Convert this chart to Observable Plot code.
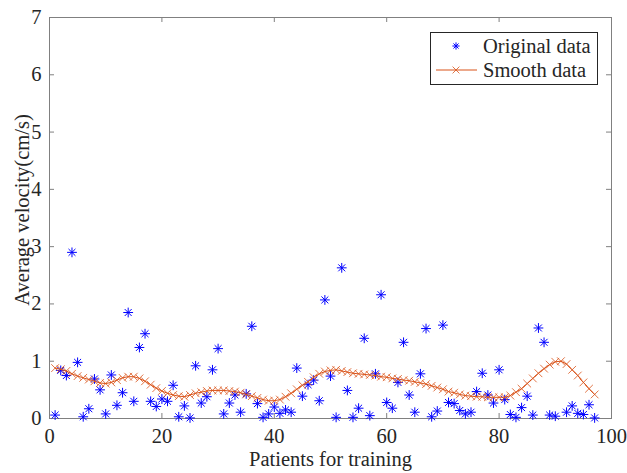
<!DOCTYPE html>
<html>
<head>
<meta charset="utf-8">
<script src="https://cdn.jsdelivr.net/npm/d3@7"></script>
<script src="https://cdn.jsdelivr.net/npm/@observablehq/plot@0.6"></script>
<style>
  html, body { margin: 0; padding: 0; background: #fff; }
  #wrap { position: relative; width: 627px; height: 473px; }
  #legend { position: absolute; left: 0; top: 0; }
</style>
</head>
<body>
<div id="wrap"></div>
<script>
// ---- data ----
const origIndex = [1,2,3,4,5,6,7,8,9,10,11,12,13,14,15,16,17,18,19,20,
  21,22,23,24,25,26,27,28,29,30,31,32,33,34,35,36,37,38,39,40,
  41,42,43,44,45,46,47,48,49,50,51,52,53,54,55,56,57,58,59,60,
  61,62,63,64,65,66,67,68,69,70,71,72,73,74,75,76,77,78,79,80,
  81,82,83,84,85,86,87,88,89,90,92,93,94,95,96,97];
const origValues = [0.06,0.84,0.75,2.90,0.98,0.03,0.17,0.69,0.50,0.08,
  0.76,0.23,0.45,1.85,0.30,1.24,1.48,0.30,0.21,0.34,
  0.30,0.58,0.03,0.22,0.01,0.92,0.27,0.38,0.85,1.22,
  0.08,0.27,0.41,0.11,0.43,1.61,0.26,0.02,0.08,0.20,
  0.09,0.15,0.11,0.88,0.39,0.59,0.67,0.31,2.07,0.74,
  0.02,2.63,0.49,0.02,0.18,1.40,0.05,0.78,2.16,0.28,
  0.18,0.63,1.33,0.41,0.11,0.78,1.57,0.03,0.13,1.63,
  0.28,0.26,0.14,0.08,0.11,0.47,0.79,0.41,0.27,0.85,
  0.33,0.07,0.02,0.19,0.39,0.06,1.58,1.33,0.06,0.04,
  0.11,0.22,0.09,0.07,0.24,0.01];

const smoothIndex = d3.range(1, 98);
const smoothValues = [0.88,0.86,0.83,0.78,0.74,0.71,0.68,0.65,0.62,0.61,
  0.63,0.67,0.71,0.73,0.73,0.70,0.65,0.59,0.53,0.48,
  0.44,0.41,0.39,0.38,0.41,0.44,0.46,0.48,0.49,0.49,
  0.49,0.48,0.47,0.45,0.42,0.39,0.36,0.33,0.31,0.31,
  0.33,0.38,0.44,0.51,0.58,0.64,0.72,0.78,0.82,0.84,
  0.85,0.83,0.81,0.79,0.78,0.77,0.76,0.75,0.73,0.72,
  0.70,0.69,0.67,0.66,0.64,0.62,0.60,0.57,0.54,0.51,
  0.47,0.45,0.42,0.40,0.39,0.38,0.38,0.37,0.37,0.37,
  0.37,0.40,0.46,0.52,0.61,0.70,0.79,0.87,0.94,0.99,
  1.00,0.95,0.85,0.75,0.63,0.52,0.42];

const xTicks = [0, 20, 40, 60, 80, 100];
const yTicks = [0, 1, 2, 3, 4, 5, 6, 7];
const xLabel = "Patients for training";
const yLabel = "Average velocity(cm/s)";
const seriesNames = ["Original data", "Smooth data"];

const orig = origIndex.map((x, i) => ({x, y: origValues[i]}));
const smooth = smoothIndex.map((x, i) => ({x, y: smoothValues[i]}));

// ---- styles ----
const BLUE = "#0000ff";
const ORANGE = "#D95319";
const AXIS = "#808080";
const TEXT = "#262626";
const FONT = "'Liberation Serif', 'Times New Roman', serif";
const FS = 20.5;

const W = 627, H = 473;
const mL = 49, mR = 16, mT = 17, mB = 55;
const innerW = W - mL - mR, innerH = H - mT - mB;
const TICK = 5;

// MATLAB-style '*' marker: 8 spokes
const starSymbol = {
  draw(context, size) {
    const r = Math.sqrt(size / Math.PI);
    const d = r * Math.SQRT1_2;
    context.moveTo(-r, 0); context.lineTo(r, 0);
    context.moveTo(0, -r); context.lineTo(0, r);
    context.moveTo(-d, -d); context.lineTo(d, d);
    context.moveTo(-d, d); context.lineTo(d, -d);
  }
};

const chart = Plot.plot({
  width: W, height: H,
  marginLeft: mL, marginRight: mR, marginTop: mT, marginBottom: mB,
  style: {fontFamily: FONT, fontSize: FS + "px", color: TEXT, background: "#fff"},
  x: {domain: [0, 100], ticks: xTicks},
  y: {domain: [0, 7], ticks: yTicks},
  marks: [
    // tick labels
    Plot.axisX(xTicks, {tickSize: 0, tickPadding: 10, label: null, tickFormat: d3.format("d"), fontSize: FS, fill: TEXT}),
    Plot.axisY(yTicks, {tickSize: 0, tickPadding: 8, label: null, tickFormat: d3.format("d"), fontSize: FS, fill: TEXT}),
    // inward ticks (bottom, top, left, right)
    Plot.tickX(xTicks, {x: d => d, stroke: AXIS, insetTop: innerH - TICK}),
    Plot.tickX(xTicks, {x: d => d, stroke: AXIS, insetBottom: innerH - TICK}),
    Plot.tickY(yTicks, {y: d => d, stroke: AXIS, insetRight: innerW - TICK}),
    Plot.tickY(yTicks, {y: d => d, stroke: AXIS, insetLeft: innerW - TICK}),
    Plot.frame({stroke: AXIS, strokeWidth: 1}),
    // data
    Plot.dot(orig, {x: "x", y: "y", symbol: starSymbol, r: 4.9, stroke: BLUE, strokeWidth: 1, fill: "none"}),
    Plot.line(smooth, {x: "x", y: "y", stroke: ORANGE, strokeWidth: 1}),
    Plot.dot(smooth, {x: "x", y: "y", symbol: "times", r: 3.6, stroke: ORANGE, strokeWidth: 0.8}),
    // axis titles
    Plot.text([xLabel], {text: d => d, frameAnchor: "bottom", textAnchor: "middle", dy: 47, fontSize: FS, fill: TEXT}),
    Plot.text([yLabel], {text: d => d, frameAnchor: "left", textAnchor: "middle", lineAnchor: "middle", dx: -27, dy: -8, rotate: -90, fontSize: FS, fill: TEXT})
  ]
});

document.getElementById("wrap").appendChild(chart);

// ---- legend (inside the axes, top right) ----
const ns = "http://www.w3.org/2000/svg";
const lg = d3.create("svg").attr("id", "legend").attr("width", W).attr("height", H)
  .attr("xmlns", ns);
const bx = 430, by = 32, bw = 167, bh = 52;
lg.append("rect").attr("x", bx + 0.5).attr("y", by + 0.5).attr("width", bw).attr("height", bh)
  .attr("fill", "#fff").attr("stroke", TEXT).attr("stroke-width", 1);
// star
const sx = 456, sy1 = 46;
const starPath = d3.path();
starSymbol.draw(starPath, Math.PI * 3.6 * 3.6);
lg.append("path").attr("d", starPath.toString()).attr("transform", `translate(${sx},${sy1})`)
  .attr("stroke", BLUE).attr("fill", "none").attr("stroke-width", 1);
// line + x
const sy2 = 70;
lg.append("line").attr("x1", 436).attr("x2", 477).attr("y1", sy2).attr("y2", sy2)
  .attr("stroke", ORANGE).attr("stroke-width", 1);
const tp = d3.path();
d3.symbolTimes.draw(tp, Math.PI * 3.2 * 3.2);
lg.append("path").attr("d", tp.toString()).attr("transform", `translate(${sx},${sy2})`)
  .attr("stroke", ORANGE).attr("fill", "none").attr("stroke-width", 0.8);
lg.selectAll("text.lbl").data(seriesNames).join("text")
  .attr("x", 483).attr("y", (d, i) => i === 0 ? sy1 : sy2)
  .attr("dy", "0.35em")
  .attr("font-family", FONT).attr("font-size", FS).attr("fill", TEXT)
  .text(d => d);
document.getElementById("wrap").appendChild(lg.node());
</script>
</body>
</html>
